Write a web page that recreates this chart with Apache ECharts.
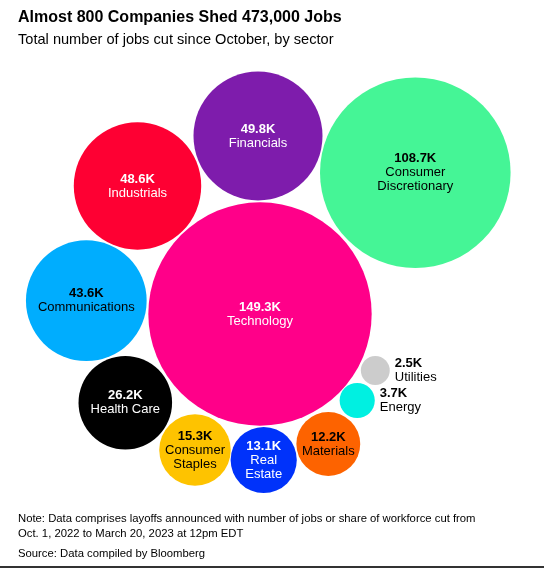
<!DOCTYPE html>
<html>
<head>
<meta charset="utf-8">
<script src="https://cdn.jsdelivr.net/npm/echarts@6/dist/echarts.min.js"></script>
<style>
html,body{margin:0;padding:0;background:#fff;}
#chart{width:544px;height:568px;}
</style>
</head>
<body>
<div id="chart"></div>
<script>
// Data
const sectors = ['Technology','Consumer Discretionary','Financials','Industrials','Communications','Health Care','Consumer Staples','Real Estate','Materials','Energy','Utilities'];
const jobsCutK = [149.3,108.7,49.8,48.6,43.6,26.2,15.3,13.1,12.2,3.7,2.5];
// Packed layout of bubble centres (layout units)
const packX = [260,415.3,258,137.5,86.3,125.3,195,263.7,328.3,357.2,375.3];
const packY = [314,172.7,136,186,300.7,402.7,450,460,444,400.5,370.5];

const colors = ['#ff0089','#45f596','#7e1cac','#fe0033','#00adfe','#000000','#fec300','#0032fa','#fd6300','#00f0e1','#cccccc'];
const labelColors = ['#fff','#000','#fff','#fff','#000','#fff','#000','#fff','#000','#000','#000'];
const labelNames = ['Technology','Consumer\nDiscretionary','Financials','Industrials','Communications','Health Care','Consumer\nStaples','Real\nEstate','Materials','Energy','Utilities'];
const outside = [false,false,false,false,false,false,false,false,false,true,true];
const K = 9.14; // px radius per sqrt(thousand jobs)

const font = '"Liberation Sans", Arial, Helvetica, sans-serif';

const data = sectors.map((s, i) => {
  const c = labelColors[i];
  return {
    name: s,
    value: [packX[i], packY[i], jobsCutK[i]],
    itemStyle: { color: colors[i], opacity: 1 },
    label: {
      show: true,
      position: outside[i] ? 'right' : 'inside',
      distance: outside[i] ? 5 : 5,
      align: outside[i] ? 'left' : 'center',
      formatter: () => '{v|' + jobsCutK[i].toFixed(1) + 'K}\n{n|' + labelNames[i].split('\n').join('}\n{n|') + '}',
      rich: {
        v: { fontFamily: font, fontWeight: 'bold', fontSize: 13, lineHeight: 14, color: c, align: outside[i] ? 'left' : 'center' },
        n: { fontFamily: font, fontSize: 13, lineHeight: 14, color: c, align: outside[i] ? 'left' : 'center' }
      }
    }
  };
});

const chart = echarts.init(document.getElementById('chart'), null, { renderer: 'canvas' });
chart.setOption({
  animation: false,
  backgroundColor: '#fff',
  title: [
    { text: 'Almost 800 Companies Shed 473,000 Jobs', left: 13, top: 5,
      textStyle: { fontFamily: font, fontWeight: 'bold', fontSize: 16, color: '#000' } },
    { text: 'Total number of jobs cut since October, by sector', left: 13, top: 27,
      textStyle: { fontFamily: font, fontWeight: 'normal', fontSize: 14.6, color: '#000' } },
    { text: 'Note: Data comprises layoffs announced with number of jobs or share of workforce cut from\nOct. 1, 2022 to March 20, 2023 at 12pm EDT', left: 13, top: 506,
      textStyle: { fontFamily: font, fontWeight: 'normal', fontSize: 11.3, lineHeight: 15, color: '#000' } },
    { text: 'Source: Data compiled by Bloomberg', left: 13, top: 543,
      textStyle: { fontFamily: font, fontWeight: 'normal', fontSize: 11.3, color: '#000' } }
  ],
  grid: { left: 0, right: 0, top: 0, bottom: 0 },
  xAxis: { type: 'value', min: 0, max: 544, show: false },
  yAxis: { type: 'value', min: 0, max: 568, inverse: true, show: false },
  series: [{
    type: 'scatter',
    symbol: 'circle',
    symbolSize: (v) => 2 * K * Math.sqrt(v[2]),
    itemStyle: { opacity: 1 },
    data: data,
    emphasis: { disabled: true }
  }],
  graphic: [{
    type: 'rect', left: 0, top: 566, shape: { width: 544, height: 2 }, style: { fill: '#333' }
  }]
});
</script>
</body>
</html>
